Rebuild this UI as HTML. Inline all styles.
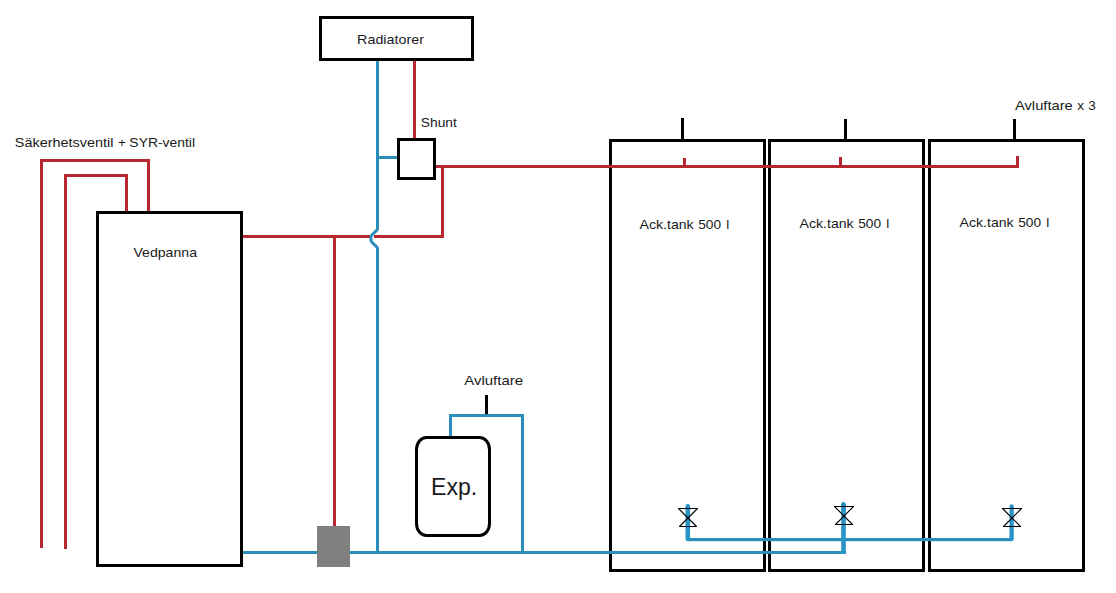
<!DOCTYPE html>
<html><head><meta charset="utf-8">
<style>
html,body{margin:0;padding:0;background:#fff;}
body{width:1116px;height:593px;overflow:hidden;position:relative;}
svg{position:absolute;left:0;top:0;display:block;}
text{font-family:"Liberation Sans",sans-serif;fill:#1a1a1a;}
</style></head>
<body>
<svg width="1116" height="593" viewBox="0 0 1116 593">
<rect x="0" y="0" width="1116" height="593" fill="#fff"/>
<!-- BLACK outlines -->
<g fill="none" stroke="#000" stroke-width="3">
  <rect x="97.5" y="212.5" width="144" height="353"/>
  <rect x="320.5" y="17.5" width="152" height="42"/>
  <rect x="398.5" y="139.5" width="36" height="39"/>
  <rect x="610.5" y="140.5" width="154" height="430"/>
  <rect x="769.5" y="140.5" width="154" height="430"/>
  <rect x="929.5" y="140.5" width="154" height="430"/>
  <rect x="416.5" y="437.5" width="73" height="98" rx="10" ry="12"/>
</g>
<g fill="#000">
  <rect x="681" y="118" width="3" height="22"/>
  <rect x="844" y="119" width="3" height="21"/>
  <rect x="1013" y="119" width="3" height="21"/>
  <rect x="485" y="395" width="3" height="20"/>
</g>
<!-- RED pipes -->
<g fill="#b7272f">
  <!-- safety outer -->
  <rect x="40" y="159" width="3" height="389"/>
  <rect x="40" y="159" width="110" height="3"/>
  <rect x="147" y="159" width="3" height="52"/>
  <!-- safety inner -->
  <rect x="64" y="174" width="3" height="375"/>
  <rect x="64" y="174" width="64" height="3"/>
  <rect x="125" y="174" width="3" height="37"/>
  <!-- boiler out -->
  <rect x="243" y="235" width="127" height="3"/>
  <rect x="374" y="235" width="70" height="3"/>
  <rect x="441" y="165" width="3" height="73"/>
  <rect x="333" y="235" width="3" height="292"/>
  <!-- radiator supply -->
  <rect x="413" y="61" width="3" height="77"/>
  <!-- to tanks -->
  <rect x="436" y="165" width="583" height="3"/>
  <rect x="683" y="158" width="3" height="8"/>
  <rect x="839" y="157" width="3" height="9"/>
  <rect x="1016" y="156" width="3" height="12"/>
</g>
<!-- BLUE pipes -->
<g fill="#2b8fbb">
  <rect x="376" y="61" width="3" height="167"/>
  <rect x="376" y="248" width="3" height="306"/>
  <rect x="379" y="156" width="18" height="3"/>
  <rect x="243" y="551" width="603" height="3"/>
  <rect x="449" y="414" width="3" height="22"/>
  <rect x="449" y="414" width="75" height="3"/>
  <rect x="521" y="414" width="3" height="140"/>
  <rect x="688" y="538" width="323" height="3.2"/>
</g>
<rect x="841.2" y="504" width="4.6" height="50" fill="#2893c6"/>
<g fill="none" stroke="#2b8fbb" stroke-linecap="round" stroke-linejoin="round">
  <path d="M377.5 227 L377.5 229.3 Q376.8 230.5 375 232 L372 234.8 Q370.9 236 370.9 237.5 L370.9 239.5 Q370.9 241 372 242.2 L375.5 245.8 Q377.5 247.3 377.5 249 L377.5 250" stroke-width="3" stroke-linecap="butt"/>
  <path d="M687.8 506.3 L687.8 539" stroke-width="4.6" stroke="#2893c6"/>
  <path d="M1011.6 506.5 L1011.6 539" stroke-width="4.3" stroke="#2893c6"/>
  <path d="M843.5 504.3 L843.5 510" stroke-width="4.6" stroke="#2893c6"/>
</g>
<!-- pump -->
<rect x="317" y="526" width="33" height="41" fill="#808080"/>
<!-- valves -->
<g fill="none" stroke="#000" stroke-width="1.1">
  <path d="M678 508.5 H698 M678.5 508.5 L696.5 526.5 M697.5 508.5 L679.5 526.5 M679 526.5 H697"/>
  <path d="M834 506.5 H854 M834.5 506.5 L852.5 524.5 M853.5 506.5 L835.5 524.5 M835 524.5 H853"/>
  <path d="M1002 508.5 H1022 M1002.5 508.5 L1020.5 526.5 M1021.5 508.5 L1003.5 526.5 M1003 526.5 H1021"/>
</g>
<!-- texts -->
<text x="14.84" y="146.9" font-size="13.5" textLength="98.62" lengthAdjust="spacingAndGlyphs">Säkerhetsventil</text>
<text x="118.01" y="146.9" font-size="13.5">+</text>
<text x="129.37" y="146.9" font-size="13.5" textLength="65.66" lengthAdjust="spacingAndGlyphs">SYR-ventil</text>
<text x="133.44" y="256.8" font-size="13.5" textLength="63.56" lengthAdjust="spacingAndGlyphs">Vedpanna</text>
<text x="357.13" y="43.6" font-size="13.5" textLength="66.81" lengthAdjust="spacingAndGlyphs">Radiatorer</text>
<text x="420.88" y="127" font-size="13.5" textLength="35.92" lengthAdjust="spacingAndGlyphs">Shunt</text>
<text x="639.47" y="228.7" font-size="13.5" textLength="54.21" lengthAdjust="spacingAndGlyphs">Ack.tank</text>
<text x="698.25" y="228.7" font-size="13.5" textLength="22.88" lengthAdjust="spacingAndGlyphs">500</text>
<text x="726.35" y="228.7" font-size="13.5">l</text>
<text x="799.47" y="228.1" font-size="13.5" textLength="54.21" lengthAdjust="spacingAndGlyphs">Ack.tank</text>
<text x="858.25" y="228.1" font-size="13.5" textLength="22.88" lengthAdjust="spacingAndGlyphs">500</text>
<text x="886.35" y="228.1" font-size="13.5">l</text>
<text x="959.47" y="227.2" font-size="13.5" textLength="54.21" lengthAdjust="spacingAndGlyphs">Ack.tank</text>
<text x="1018.25" y="227.2" font-size="13.5" textLength="22.88" lengthAdjust="spacingAndGlyphs">500</text>
<text x="1046.35" y="227.2" font-size="13.5">l</text>
<text x="1014.97" y="110.3" font-size="13.5" textLength="57.78" lengthAdjust="spacingAndGlyphs">Avluftare</text>
<text x="1077.17" y="110.3" font-size="13.5">x</text>
<text x="1088.14" y="110.3" font-size="13.5">3</text>
<text x="464.27" y="384.7" font-size="13.5" textLength="58.79" lengthAdjust="spacingAndGlyphs">Avluftare</text>
<text x="431.11" y="494.8" font-size="24" textLength="46.09" lengthAdjust="spacingAndGlyphs">Exp.</text>

</svg>
</body></html>
